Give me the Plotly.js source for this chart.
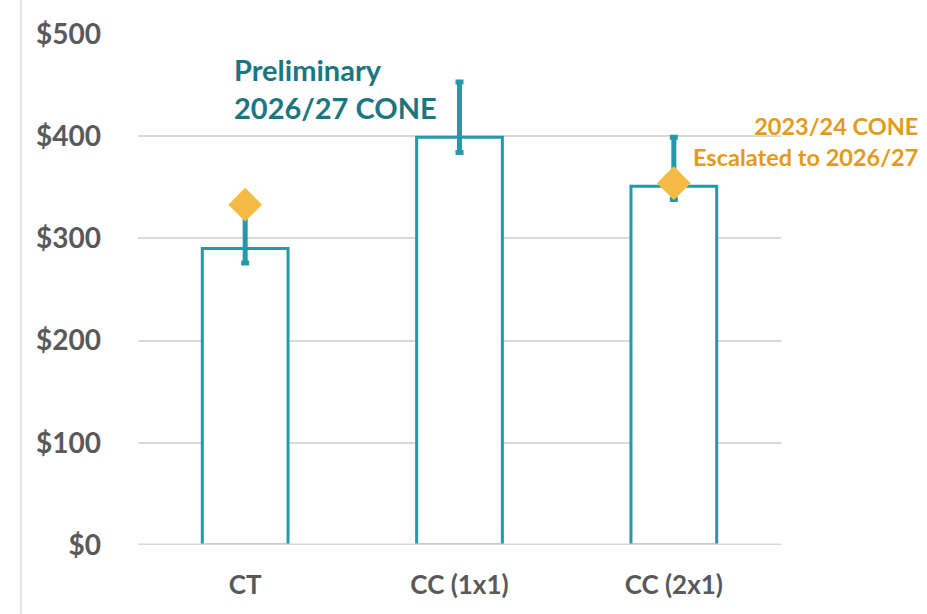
<!DOCTYPE html>
<html>
<head>
<meta charset="utf-8">
<script src="https://cdn.plot.ly/plotly-3.0.1.min.js"></script>
<style>html,body{margin:0;padding:0;background:#fff;}#chart{width:927px;height:614px;}</style>
</head>
<body>
<div id="chart"></div>
<script>
// Data
const categories = ["CT", "CC (1x1)", "CC (2x1)"];
const prelimCone = [290, 399, 351];          // Preliminary 2026/27 CONE
const prelimHigh = [323, 453, 399];          // upper end of range
const prelimLow = [276, 384, 338];           // lower end of range
const escalatedCone = [333, null, 354];      // 2023/24 CONE escalated to 2026/27
const yTickVals = [0, 100, 200, 300, 400, 500];
const yTickText = ["$0", "$100", "$200", "$300", "$400", "$500"];

const teal = "#2598aa";
const gold = "#f4bc45";

const errPlus = prelimHigh.map((v, i) => v - prelimCone[i]);
const errMinus = prelimCone.map((v, i) => v - prelimLow[i]);

const traces = [
  {
    type: "bar",
    x: categories,
    y: prelimCone,
    width: 0.4,
    marker: { color: "#ffffff", line: { color: teal, width: 3 } },
    error_y: { type: "data", symmetric: false, array: errPlus, arrayminus: errMinus,
               color: teal, thickness: 5, width: 4 },
    hoverinfo: "x+y",
    showlegend: false
  },
  {
    type: "scatter",
    mode: "markers",
    x: categories,
    y: escalatedCone,
    marker: { symbol: "diamond", size: 26, color: gold, line: { width: 0 } },
    showlegend: false
  }
];

const layout = {
  width: 927,
  height: 614,
  margin: { l: 138, r: 146, t: 34, b: 69 },
  paper_bgcolor: "#ffffff",
  plot_bgcolor: "#ffffff",
  font: { family: "Lato, 'Open Sans', sans-serif", color: "#595959" },
  showlegend: false,
  bargap: 0.6,
  xaxis: {
    type: "category",
    range: [-0.5, 2.5],
    showgrid: false,
    zeroline: false,
    showline: false,
    ticks: "",
    ticklabelstandoff: 22,
    tickfont: { size: 26, color: "#595959", family: "Lato, sans-serif", weight: "bold" }
  },
  yaxis: {
    range: [0, 500],
    tickvals: yTickVals,
    ticktext: yTickText,
    showgrid: true,
    gridcolor: "#d9d9d9",
    gridwidth: 2,
    zeroline: false,
    showline: false,
    ticks: "",
    ticklabelstandoff: 36,
    tickfont: { size: 28, color: "#595959", family: "Lato, sans-serif", weight: "bold" }
  },
  shapes: [
    { type: "line", xref: "paper", yref: "y", x0: 0, x1: 1, y0: 0, y1: 0,
      line: { color: "#d9d9d9", width: 3 }, layer: "above" },
    { type: "line", xref: "paper", yref: "paper", x0: (21 - 138) / 643, x1: (21 - 138) / 643,
      y0: -69 / 511, y1: 1 + 34 / 511, line: { color: "#dedede", width: 1.5 } }
  ],
  annotations: [
    { xref: "paper", yref: "paper", x: (232 - 138) / 643, y: (545 - 50) / 511,
      xanchor: "left", yanchor: "top", align: "left", showarrow: false,
      text: "Preliminary<br>2026/27 CONE",
      font: { size: 29, color: "#1c7682", family: "Lato, sans-serif", weight: "bold" } },
    { xref: "paper", yref: "paper", x: (920 - 138) / 643, y: (545 - 110) / 511,
      xanchor: "right", yanchor: "top", align: "right", showarrow: false,
      text: "2023/24 CONE<br>Escalated to 2026/27",
      font: { size: 23.5, color: "#e39b17", family: "Lato, sans-serif", weight: "bold" } }
  ]
};

Plotly.newPlot("chart", traces, layout, { displayModeBar: false, responsive: false });
</script>
</body>
</html>
